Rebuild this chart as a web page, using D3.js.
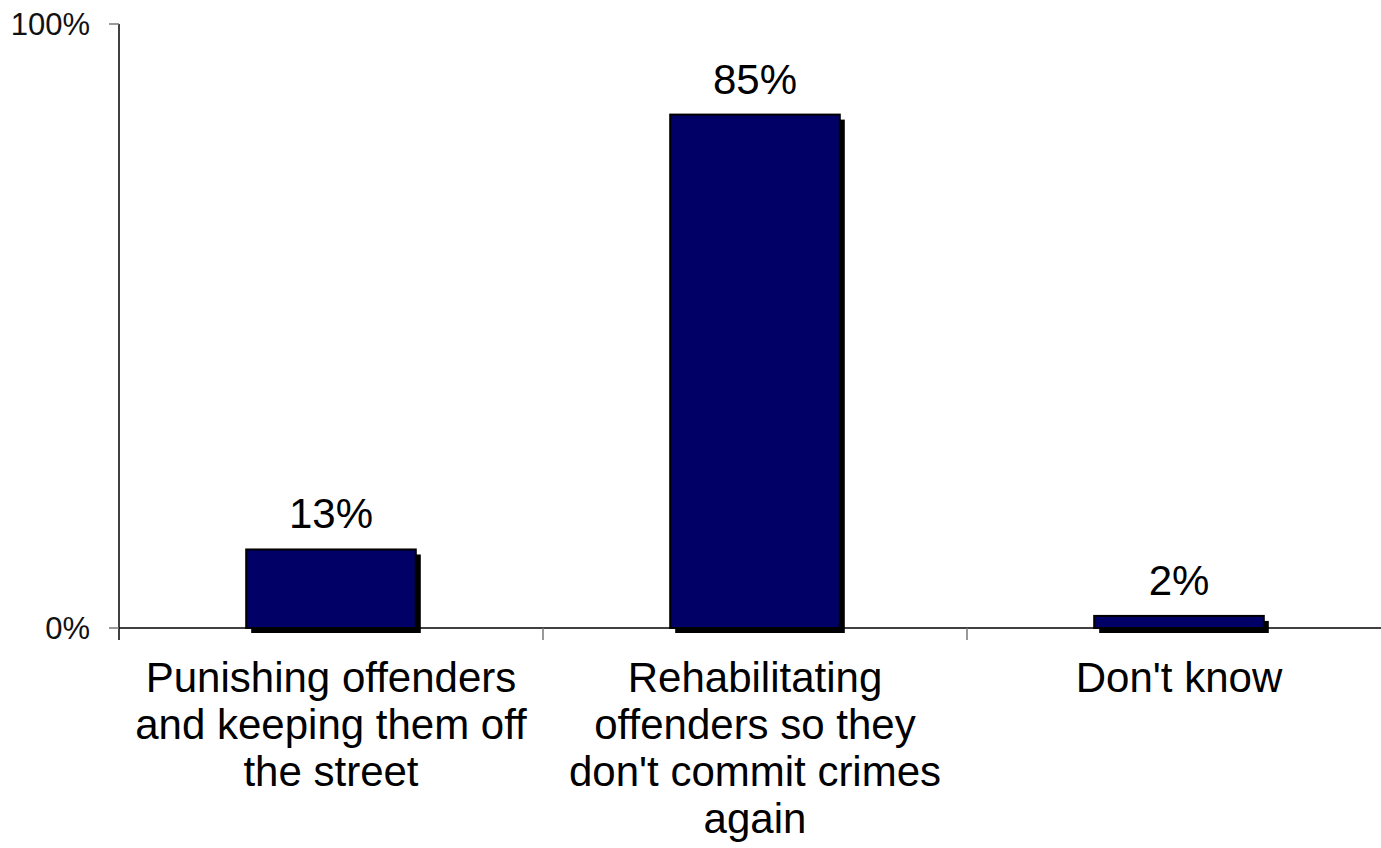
<!DOCTYPE html>
<html>
<head>
<meta charset="utf-8">
<script src="https://cdn.jsdelivr.net/npm/d3@7/dist/d3.min.js"></script>
<style>
  html, body { margin: 0; padding: 0; background: #fff; }
  svg { display: block; font-family: "Liberation Sans", Arial, sans-serif; }
</style>
</head>
<body>
<svg id="chart" width="1381" height="848"></svg>
<script>
const categories = ["Punishing offenders and keeping them off the street",
                    "Rehabilitating offenders so they don't commit crimes again",
                    "Don't know"];
const categoryLines = [
  ["Punishing offenders", "and keeping them off", "the street"],
  ["Rehabilitating", "offenders so they", "don't commit crimes", "again"],
  ["Don't know"]
];
const values = [13, 85, 2];
const valueLabels = ["13%", "85%", "2%"];
const yTicks = [0, 100];
const yTickLabels = ["0%", "100%"];

(function () {
const svg = d3.select("#chart");
const pLeft = 119, pRight = 1391, pTop = 24, pBottom = 628;

const x = d3.scaleBand().domain(categories).range([pLeft, pRight]).paddingInner(0).paddingOuter(0);
const y = d3.scaleLinear().domain([0, 100]).range([pBottom, pTop]);

const barW = x.bandwidth() * 0.4;

// shadows
svg.append("g").selectAll("rect").data(categories).join("rect")
  .attr("x", d => x(d) + (x.bandwidth() - barW) / 2 + 5)
  .attr("y", (d, i) => y(values[i]) + 5)
  .attr("width", barW)
  .attr("height", (d, i) => y(0) - y(values[i]))
  .attr("fill", "#000");

// x axis line
svg.append("line").attr("x1", pLeft).attr("x2", 1381).attr("y1", pBottom).attr("y2", pBottom)
  .attr("stroke", "#000").attr("stroke-width", 1.5);

// bars
svg.append("g").selectAll("rect").data(categories).join("rect")
  .attr("x", d => x(d) + (x.bandwidth() - barW) / 2)
  .attr("y", (d, i) => y(values[i]))
  .attr("width", barW)
  .attr("height", (d, i) => y(0) - y(values[i]))
  .attr("fill", "#000066")
  .attr("stroke", "#000")
  .attr("stroke-width", 2);

// y axis
svg.append("line").attr("x1", pLeft).attr("x2", pLeft).attr("y1", pTop).attr("y2", pBottom + 12)
  .attr("stroke", "#000").attr("stroke-width", 1.5);
svg.append("g").selectAll("line").data(yTicks).join("line")
  .attr("x1", pLeft - 10).attr("x2", pLeft).attr("y1", d => y(d)).attr("y2", d => y(d))
  .attr("stroke", "#777").attr("stroke-width", 1.5);
svg.append("g").selectAll("text").data(yTicks).join("text")
  .attr("x", 90).attr("y", d => y(d)).attr("dy", "0.36em")
  .attr("text-anchor", "end").attr("font-size", 31).attr("fill", "#111")
  .text((d, i) => yTickLabels[i]);

// x ticks at band boundaries
svg.append("g").selectAll("line").data(categories.slice(1)).join("line")
  .attr("x1", d => x(d)).attr("x2", d => x(d)).attr("y1", pBottom).attr("y2", pBottom + 12)
  .attr("stroke", "#777").attr("stroke-width", 1.5);

// value labels
svg.append("g").selectAll("text").data(categories).join("text")
  .attr("x", d => x(d) + x.bandwidth() / 2)
  .attr("y", (d, i) => y(values[i]) - 21)
  .attr("text-anchor", "middle").attr("font-size", 42).attr("fill", "#000")
  .text((d, i) => valueLabels[i]);

// category labels
const cl = svg.append("g").selectAll("text").data(categories).join("text")
  .attr("x", d => x(d) + x.bandwidth() / 2)
  .attr("y", 692)
  .attr("text-anchor", "middle").attr("font-size", 42).attr("fill", "#000");
cl.each(function(d, i) {
  const t = d3.select(this);
  categoryLines[i].forEach((ln, j) => {
    t.append("tspan").attr("x", x(d) + x.bandwidth() / 2).attr("y", 692 + j * 47).text(ln);
  });
});
})();
</script>
</body>
</html>
